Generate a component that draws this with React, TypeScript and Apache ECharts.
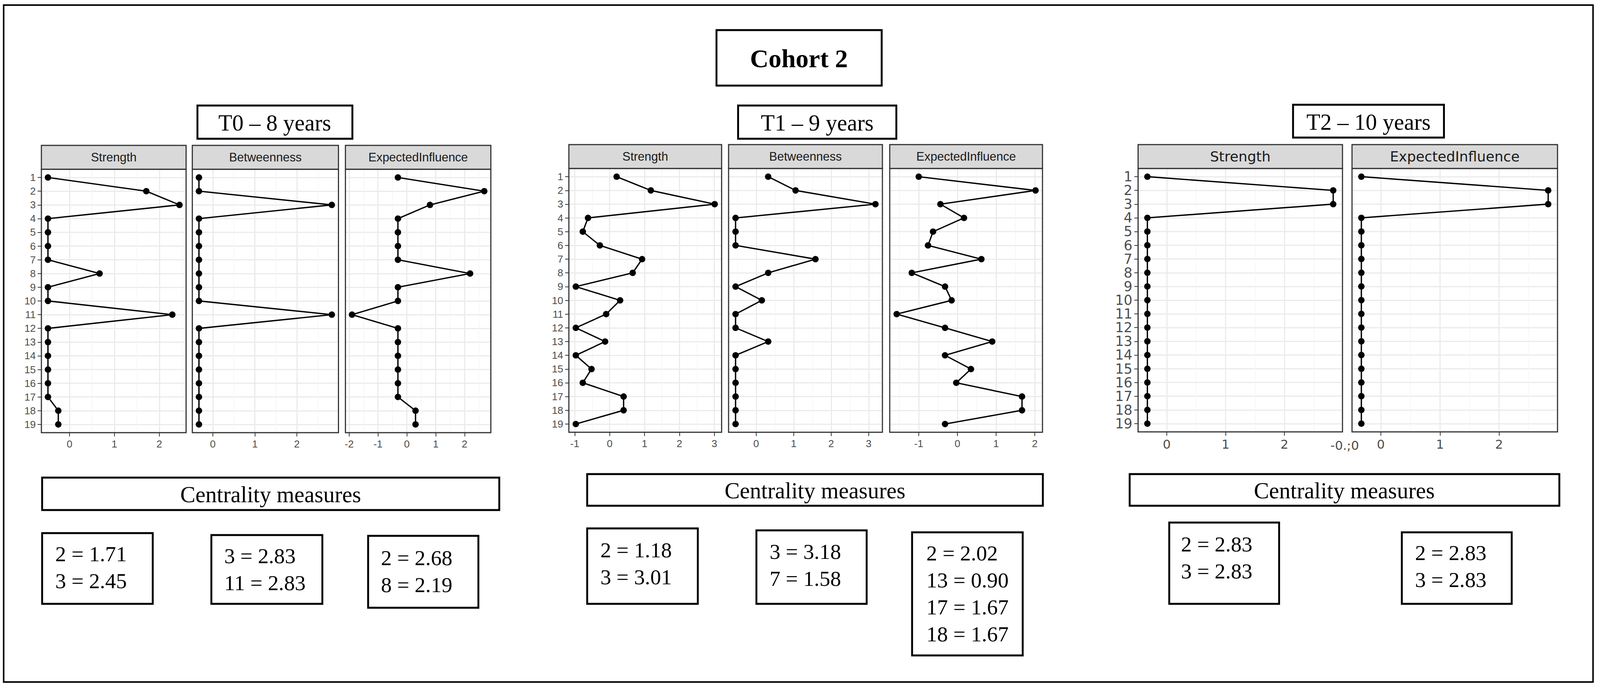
import React, { useEffect, useRef } from "react";
import * as echarts from "echarts";

// ---------- data ----------
const nodes = [1, 2, 3, 4, 5, 6, 7, 8, 9, 10, 11, 12, 13, 14, 15, 16, 17, 18, 19];

const t0Strength = [-0.48, 1.71, 2.45, -0.48, -0.48, -0.48, -0.48, 0.67, -0.48, -0.48, 2.29, -0.48, -0.48, -0.48, -0.48, -0.48, -0.48, -0.25, -0.25];
const t0Betweenness = [-0.33, -0.33, 2.83, -0.33, -0.33, -0.33, -0.33, -0.33, -0.33, -0.33, 2.83, -0.33, -0.33, -0.33, -0.33, -0.33, -0.33, -0.33, -0.33];
const t0Expected = [-0.31, 2.68, 0.8, -0.31, -0.31, -0.31, -0.31, 2.19, -0.31, -0.31, -1.9, -0.31, -0.31, -0.31, -0.31, -0.31, -0.31, 0.3, 0.3];

const t1Strength = [0.2, 1.18, 3.01, -0.62, -0.77, -0.28, 0.93, 0.66, -0.97, 0.3, -0.1, -0.97, -0.13, -0.97, -0.52, -0.77, 0.4, 0.4, -0.97];
const t1Betweenness = [0.32, 1.05, 3.18, -0.55, -0.55, -0.55, 1.58, 0.32, -0.55, 0.15, -0.55, -0.55, 0.32, -0.55, -0.55, -0.55, -0.55, -0.55, -0.55];
const t1Expected = [-1.0, 2.02, -0.44, 0.17, -0.63, -0.76, 0.62, -1.18, -0.32, -0.15, -1.57, -0.32, 0.9, -0.32, 0.35, -0.03, 1.67, 1.67, -0.32];

const t2Strength = [-0.33, 2.83, 2.83, -0.33, -0.33, -0.33, -0.33, -0.33, -0.33, -0.33, -0.33, -0.33, -0.33, -0.33, -0.33, -0.33, -0.33, -0.33, -0.33];
const t2Expected = [-0.33, 2.83, 2.83, -0.33, -0.33, -0.33, -0.33, -0.33, -0.33, -0.33, -0.33, -0.33, -0.33, -0.33, -0.33, -0.33, -0.33, -0.33, -0.33];

// x tick labels per panel
const t0StrengthTicks = [0, 1, 2];
const t0BetweennessTicks = [0, 1, 2];
const t0ExpectedTicks = [-2, -1, 0, 1, 2];
const t1StrengthTicks = [-1, 0, 1, 2, 3];
const t1BetweennessTicks = [0, 1, 2, 3];
const t1ExpectedTicks = [-1, 0, 1, 2];
const t2StrengthTicks = [0, 1, 2];
const t2ExpectedTicks = [0, 1, 2];

// highlighted nodes listed under "Centrality measures"
const t0StrengthTop = [2, 3];
const t0BetweennessTop = [3, 11];
const t0ExpectedTop = [2, 8];
const t1StrengthTop = [2, 3];
const t1BetweennessTop = [3, 7];
const t1ExpectedTop = [2, 13, 17, 18];
const t2StrengthTop = [2, 3];
const t2ExpectedTop = [2, 3];

const mainTitle = "Cohort 2";
const timeTitles = ["T0 \u2013 8 years", "T1 \u2013 9 years", "T2 \u2013 10 years"];
const sectionTitle = "Centrality measures";

// ---------- layout (design space 4368 x 1768) ----------
const DW = 4368;
const DH = 1768;

type Panel = {
  title: string;
  values: number[];
  ticks: number[];
  left: number;
  right: number;
  top: number;
  bottom: number;
  stripTop: number;
  showY: boolean;
  big: boolean;
};

const panels: Panel[] = [
  { title: "Strength", values: t0Strength, ticks: t0StrengthTicks, left: 113, right: 508, top: 433, bottom: 1107, stripTop: 372, showY: true, big: false },
  { title: "Betweenness", values: t0Betweenness, ticks: t0BetweennessTicks, left: 525, right: 924, top: 433, bottom: 1107, stripTop: 372, showY: false, big: false },
  { title: "ExpectedInfluence", values: t0Expected, ticks: t0ExpectedTicks, left: 943, right: 1340, top: 433, bottom: 1107, stripTop: 372, showY: false, big: false },
  { title: "Strength", values: t1Strength, ticks: t1StrengthTicks, left: 1553, right: 1970, top: 431, bottom: 1106, stripTop: 370, showY: true, big: false },
  { title: "Betweenness", values: t1Betweenness, ticks: t1BetweennessTicks, left: 1989, right: 2409, top: 431, bottom: 1106, stripTop: 370, showY: false, big: false },
  { title: "ExpectedInfluence", values: t1Expected, ticks: t1ExpectedTicks, left: 2429, right: 2846, top: 431, bottom: 1106, stripTop: 370, showY: false, big: false },
  { title: "Strength", values: t2Strength, ticks: t2StrengthTicks, left: 3107, right: 3665, top: 431, bottom: 1105, stripTop: 370, showY: true, big: true },
  { title: "ExpectedInfluence", values: t2Expected, ticks: t2ExpectedTicks, left: 3691, right: 4252, top: 431, bottom: 1105, stripTop: 370, showY: false, big: true },
];

type StatBox = { values: number[]; top: number[]; x: number; y: number; w: number; h: number; tx: number; ty: number };
const statBoxes: StatBox[] = [
  { values: t0Strength, top: t0StrengthTop, x: 115, y: 1364, w: 302, h: 181, tx: 151, ty: 1417 },
  { values: t0Betweenness, top: t0BetweennessTop, x: 577, y: 1369, w: 303, h: 176, tx: 612, ty: 1422 },
  { values: t0Expected, top: t0ExpectedTop, x: 1005, y: 1371, w: 301, h: 184, tx: 1040, ty: 1427 },
  { values: t1Strength, top: t1StrengthTop, x: 1603, y: 1352, w: 302, h: 193, tx: 1639, ty: 1407 },
  { values: t1Betweenness, top: t1BetweennessTop, x: 2065, y: 1357, w: 301, h: 188, tx: 2101, ty: 1411 },
  { values: t1Expected, top: t1ExpectedTop, x: 2490, y: 1362, w: 302, h: 315, tx: 2529, ty: 1415 },
  { values: t2Strength, top: t2StrengthTop, x: 3192, y: 1337, w: 300, h: 208, tx: 3224, ty: 1392 },
  { values: t2Expected, top: t2ExpectedTop, x: 3827, y: 1362, w: 300, h: 183, tx: 3863, ty: 1414 },
];

const SERIF = "'Liberation Serif', 'Times New Roman', serif";
const SANS = "'Liberation Sans', Arial, sans-serif";
const WIDE = "'DejaVu Sans', Verdana, sans-serif";

const extentOf = (v: number[]) => {
  const lo = Math.min(...v);
  const hi = Math.max(...v);
  const pad = (hi - lo) * 0.05;
  return [lo - pad, hi + pad];
};

const intFmt = (v: number) => (Math.abs(v - Math.round(v)) < 1e-6 ? String(Math.round(v)) : "");

function buildOption(W: number, H: number) {
  const sx = W / DW;
  const sy = H / DH;
  const fs = Math.sqrt(sx * sy);
  const X = (v: number) => v * sx;
  const Y = (v: number) => v * sy;
  const S = (v: number) => v * fs;

  const grid: any[] = [];
  const xAxis: any[] = [];
  const yAxis: any[] = [];
  const series: any[] = [];
  const graphic: any[] = [];

  panels.forEach((p, i) => {
    const [mn, mx] = extentOf(p.values);
    grid.push({
      left: X(p.left),
      top: Y(p.top),
      width: X(p.right) - X(p.left),
      height: Y(p.bottom) - Y(p.top),
      show: false,
      containLabel: false,
    });
    xAxis.push({
      type: "value",
      gridIndex: i,
      position: "bottom",
      min: mn,
      max: mx,
      minInterval: 1,
      maxInterval: 1,
      axisLine: { show: false, onZero: false },
      axisTick: { show: true, length: S(10), customValues: p.ticks, lineStyle: { color: "#333333", width: S(2) } },
      axisLabel: {
        show: true,
        customValues: p.ticks,
        formatter: intFmt,
        margin: S(17),
        fontSize: S(p.big ? 33 : 27),
        fontFamily: p.big ? WIDE : SANS,
        color: "#4D4D4D",
      },
      splitLine: { show: true, lineStyle: { color: "#EBEBEB", width: S(3) } },
      minorTick: { show: false, splitNumber: 2 },
      minorSplitLine: { show: true, lineStyle: { color: "#F3F3F3", width: S(1.5) } },
    });
    yAxis.push({
      type: "value",
      gridIndex: i,
      position: "left",
      inverse: true,
      min: 0.4,
      max: 19.6,
      minInterval: 1,
      maxInterval: 1,
      axisLine: { show: false, onZero: false },
      axisTick: { show: p.showY, length: S(10), customValues: nodes, lineStyle: { color: "#333333", width: S(2) } },
      axisLabel: {
        show: p.showY,
        customValues: nodes,
        formatter: intFmt,
        margin: S(15),
        fontSize: S(p.big ? 36 : 27),
        fontFamily: p.big ? WIDE : SANS,
        color: "#4D4D4D",
      },
      splitLine: { show: true, lineStyle: { color: "#EBEBEB", width: S(3) } },
    });
    series.push({
      type: "line",
      xAxisIndex: i,
      yAxisIndex: i,
      data: nodes.map((n, k) => [p.values[k], n]),
      symbol: "circle",
      symbolSize: S(17),
      showSymbol: true,
      lineStyle: { color: "#000000", width: S(3.5) },
      itemStyle: { color: "#000000" },
      clip: false,
      silent: true,
      z: 5,
    });
    // panel border
    graphic.push({
      type: "rect",
      shape: { x: X(p.left), y: Y(p.top), width: X(p.right) - X(p.left), height: Y(p.bottom) - Y(p.top) },
      style: { fill: "none", stroke: "#333333", lineWidth: S(3) },
      z: 100,
    });
    // strip
    graphic.push({
      type: "rect",
      shape: { x: X(p.left), y: Y(p.stripTop), width: X(p.right) - X(p.left), height: Y(p.top) - Y(p.stripTop) },
      style: { fill: "#D9D9D9", stroke: "#333333", lineWidth: S(3) },
      z: 100,
    });
    graphic.push({
      type: "text",
      x: X((p.left + p.right) / 2),
      y: Y((p.stripTop + p.top) / 2),
      style: {
        text: p.title,
        fontSize: S(p.big ? 37 : 32),
        fontFamily: p.big ? WIDE : SANS,
        fill: "#1A1A1A",
        textAlign: "center",
        textVerticalAlign: "middle",
        align: "center",
        verticalAlign: "middle",
      },
      z: 101,
    });
  });

  const boxRect = (x: number, y: number, w: number, h: number, lw = 5) => ({
    type: "rect",
    shape: { x: X(x), y: Y(y), width: X(x + w) - X(x), height: Y(y + h) - Y(y) },
    style: { fill: "none", stroke: "#000000", lineWidth: S(lw) },
    z: 100,
  });
  const txt = (text: string, x: number, y: number, size: number, align = "center", weight = "normal") => ({
    type: "text",
    x: X(x),
    y: Y(y),
    style: {
      text,
      fontSize: S(size),
      fontFamily: SERIF,
      fontWeight: weight,
      fill: "#000000",
      textAlign: align,
      textVerticalAlign: "middle",
      align,
      verticalAlign: "middle",
    },
    z: 101,
  });

  // outer frame
  graphic.push(boxRect(10, 13, 4339, 1732, 4));
  // main title
  graphic.push(boxRect(1956, 77, 451, 142));
  graphic.push(txt(mainTitle, 2181, 149, 68, "center", "bold"));
  // time titles
  graphic.push(boxRect(539, 270, 423, 85));
  graphic.push(txt(timeTitles[0], 750, 314, 60));
  graphic.push(boxRect(2015, 270, 432, 85));
  graphic.push(txt(timeTitles[1], 2231, 314, 60));
  graphic.push(boxRect(3530, 268, 412, 84));
  graphic.push(txt(timeTitles[2], 3736, 312, 60));
  // centrality headers
  graphic.push(boxRect(115, 1222, 1248, 83));
  graphic.push(txt(sectionTitle, 739, 1265, 60));
  graphic.push(boxRect(1603, 1213, 1244, 81));
  graphic.push(txt(sectionTitle, 2225, 1255, 60));
  graphic.push(boxRect(3084, 1213, 1173, 81));
  graphic.push(txt(sectionTitle, 3670, 1255, 60));

  // stat boxes
  statBoxes.forEach((b) => {
    graphic.push(boxRect(b.x, b.y, b.w, b.h));
    b.top.forEach((n, k) => {
      graphic.push(txt(`${n} = ${b.values[n - 1].toFixed(2)}`, b.tx, b.ty + k * 69, 57, "left"));
    });
  });

  // overlapping tick-label fragment between the T2 panels
  graphic.push({
    type: "text",
    x: X(3671),
    y: Y(1140),
    style: {
      text: "-0.;0",
      fontSize: S(33),
      fontFamily: WIDE,
      fill: "#4D4D4D",
      textAlign: "center",
      textVerticalAlign: "middle",
      align: "center",
      verticalAlign: "middle",
    },
    z: 101,
  });

  return {
    animation: false,
    backgroundColor: "#FFFFFF",
    grid,
    xAxis,
    yAxis,
    series,
    graphic: { elements: graphic },
  };
}

export default function App() {
  const ref = useRef<HTMLDivElement | null>(null);
  useEffect(() => {
    const el = ref.current;
    if (!el) return;
    const chart = echarts.init(el, null, { renderer: "svg" });
    const W = el.clientWidth || window.innerWidth || DW;
    const H = el.clientHeight || window.innerHeight || DH;
    chart.setOption(buildOption(W, H) as any);
    return () => chart.dispose();
  }, []);
  return (
    <div
      ref={ref}
      style={{ position: "fixed", left: 0, top: 0, width: "100vw", height: "100vh", background: "#FFFFFF" }}
    />
  );
}
